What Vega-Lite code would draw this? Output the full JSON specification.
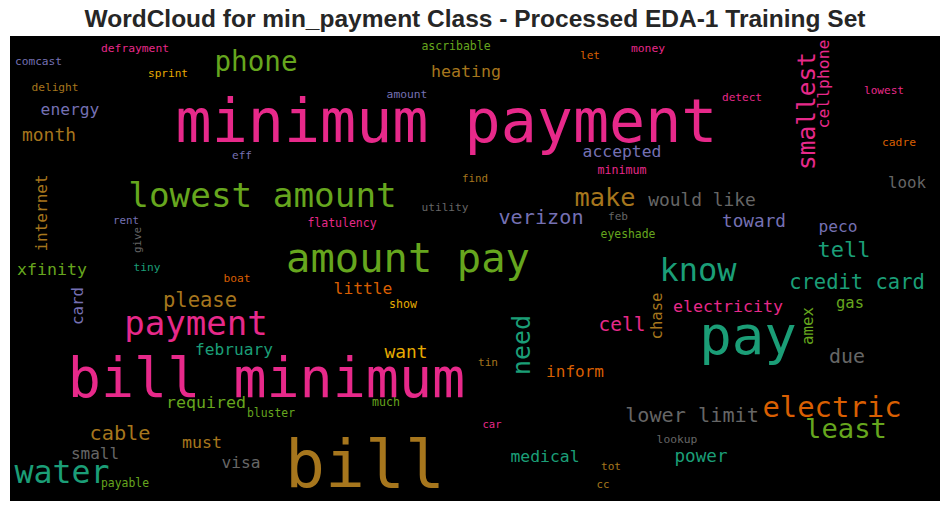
{
  "$schema": "https://vega.github.io/schema/vega-lite/v6.json",
  "width": 930,
  "height": 465,
  "autosize": {"type": "none"},
  "padding": {"left": 10, "top": 36, "right": 10, "bottom": 10},
  "background": "white",
  "view": {"fill": "black", "stroke": null},
  "title": {
    "text": "WordCloud for min_payment Class - Processed EDA-1 Training Set",
    "font": "Liberation Sans",
    "fontSize": 24.5,
    "fontWeight": "bold",
    "color": "#262626",
    "anchor": "middle",
    "frame": "group",
    "offset": 4
  },
  "data": {
    "values": [
      {"word": "defrayment", "x": 135, "y": 52, "weight": 11.3, "c": "pink", "o": "h"},
      {"word": "comcast", "x": 38.5, "y": 65, "weight": 11.2, "c": "purple", "o": "h"},
      {"word": "sprint", "x": 168, "y": 77, "weight": 11.1, "c": "yellow", "o": "h"},
      {"word": "phone", "x": 256, "y": 71, "weight": 27.6, "c": "green", "o": "h"},
      {"word": "delight", "x": 55, "y": 91, "weight": 11.2, "c": "brown", "o": "h"},
      {"word": "energy", "x": 70, "y": 115, "weight": 16.3, "c": "purple", "o": "h"},
      {"word": "month", "x": 49, "y": 141, "weight": 17.9, "c": "brown", "o": "h"},
      {"word": "minimum payment", "x": 446.5, "y": 142, "weight": 60, "c": "pink", "o": "h"},
      {"word": "eff", "x": 242, "y": 159, "weight": 11.1, "c": "purple", "o": "h"},
      {"word": "amount", "x": 407, "y": 98, "weight": 11.3, "c": "purple", "o": "h"},
      {"word": "ascribable", "x": 456, "y": 50, "weight": 11.5, "c": "green", "o": "h"},
      {"word": "heating", "x": 466, "y": 77, "weight": 16.6, "c": "brown", "o": "h"},
      {"word": "let", "x": 590, "y": 59, "weight": 11.1, "c": "orange", "o": "h"},
      {"word": "money", "x": 648, "y": 52, "weight": 11.3, "c": "pink", "o": "h"},
      {"word": "accepted", "x": 622, "y": 157, "weight": 16.4, "c": "purple", "o": "h"},
      {"word": "minimum", "x": 622, "y": 174, "weight": 11.6, "c": "pink", "o": "h"},
      {"word": "detect", "x": 742, "y": 101, "weight": 11.1, "c": "pink", "o": "h"},
      {"word": "lowest", "x": 884, "y": 94, "weight": 11.1, "c": "pink", "o": "h"},
      {"word": "cadre", "x": 899, "y": 146, "weight": 11.3, "c": "orange", "o": "h"},
      {"word": "lowest amount", "x": 262.5, "y": 207, "weight": 34.3, "c": "green", "o": "h"},
      {"word": "find", "x": 475, "y": 182, "weight": 10.8, "c": "brown", "o": "h"},
      {"word": "utility", "x": 445, "y": 211, "weight": 11.2, "c": "gray", "o": "h"},
      {"word": "rent", "x": 126, "y": 224, "weight": 10.8, "c": "purple", "o": "h"},
      {"word": "flatulency", "x": 342, "y": 227, "weight": 11.5, "c": "pink", "o": "h"},
      {"word": "amount pay", "x": 408, "y": 272, "weight": 40.5, "c": "green", "o": "h"},
      {"word": "xfinity", "x": 52, "y": 275, "weight": 16.6, "c": "green", "o": "h"},
      {"word": "tiny", "x": 147, "y": 271, "weight": 11.2, "c": "teal", "o": "h"},
      {"word": "boat", "x": 237, "y": 282, "weight": 11.2, "c": "orange", "o": "h"},
      {"word": "little", "x": 363, "y": 294, "weight": 16.3, "c": "orange", "o": "h"},
      {"word": "show", "x": 403, "y": 308, "weight": 11.6, "c": "yellow", "o": "h"},
      {"word": "please", "x": 200, "y": 307, "weight": 20.5, "c": "brown", "o": "h"},
      {"word": "payment", "x": 196, "y": 335, "weight": 34.1, "c": "pink", "o": "h"},
      {"word": "make", "x": 605, "y": 206, "weight": 25.3, "c": "brown", "o": "h"},
      {"word": "would like", "x": 702, "y": 206, "weight": 17.9, "c": "gray", "o": "h"},
      {"word": "look", "x": 907, "y": 188, "weight": 15.8, "c": "gray", "o": "h"},
      {"word": "verizon", "x": 541, "y": 224, "weight": 20.2, "c": "purple", "o": "h"},
      {"word": "feb", "x": 618, "y": 220, "weight": 11.1, "c": "gray", "o": "h"},
      {"word": "toward", "x": 754, "y": 227, "weight": 17.7, "c": "purple", "o": "h"},
      {"word": "peco", "x": 838, "y": 232, "weight": 16.2, "c": "purple", "o": "h"},
      {"word": "eyeshade", "x": 628, "y": 238, "weight": 11.4, "c": "green", "o": "h"},
      {"word": "tell", "x": 844, "y": 257, "weight": 22, "c": "teal", "o": "h"},
      {"word": "know", "x": 698, "y": 281, "weight": 32, "c": "teal", "o": "h"},
      {"word": "credit card", "x": 857, "y": 289, "weight": 20.5, "c": "teal", "o": "h"},
      {"word": "electricity", "x": 728, "y": 312, "weight": 16.6, "c": "pink", "o": "h"},
      {"word": "gas", "x": 850, "y": 308, "weight": 15.5, "c": "green", "o": "h"},
      {"word": "cell", "x": 622, "y": 331, "weight": 19.5, "c": "pink", "o": "h"},
      {"word": "pay", "x": 748, "y": 354, "weight": 54, "c": "teal", "o": "h"},
      {"word": "due", "x": 847, "y": 363, "weight": 19.9, "c": "gray", "o": "h"},
      {"word": "tin", "x": 488, "y": 366, "weight": 11.1, "c": "brown", "o": "h"},
      {"word": "inform", "x": 575, "y": 377, "weight": 16, "c": "orange", "o": "h"},
      {"word": "lower limit", "x": 692, "y": 422, "weight": 20.2, "c": "gray", "o": "h"},
      {"word": "electric", "x": 832, "y": 417, "weight": 28.9, "c": "orange", "o": "h"},
      {"word": "least", "x": 846, "y": 438, "weight": 27.2, "c": "green", "o": "h"},
      {"word": "car", "x": 492, "y": 428, "weight": 10.5, "c": "pink", "o": "h"},
      {"word": "lookup", "x": 677, "y": 443, "weight": 11.3, "c": "gray", "o": "h"},
      {"word": "medical", "x": 545, "y": 462, "weight": 16.4, "c": "teal", "o": "h"},
      {"word": "power", "x": 701, "y": 462, "weight": 17.6, "c": "teal", "o": "h"},
      {"word": "tot", "x": 611, "y": 470, "weight": 11.1, "c": "brown", "o": "h"},
      {"word": "cc", "x": 603, "y": 488, "weight": 10.8, "c": "brown", "o": "h"},
      {"word": "february", "x": 234, "y": 355, "weight": 16.2, "c": "teal", "o": "h"},
      {"word": "want", "x": 406, "y": 358, "weight": 17.9, "c": "yellow", "o": "h"},
      {"word": "bill minimum", "x": 266.5, "y": 397, "weight": 55, "c": "pink", "o": "h"},
      {"word": "required", "x": 206, "y": 408, "weight": 16.6, "c": "green", "o": "h"},
      {"word": "much", "x": 386, "y": 406, "weight": 11.6, "c": "green", "o": "h"},
      {"word": "bluster", "x": 271, "y": 417, "weight": 11.4, "c": "green", "o": "h"},
      {"word": "cable", "x": 120, "y": 440, "weight": 20.3, "c": "brown", "o": "h"},
      {"word": "must", "x": 202, "y": 448, "weight": 16.6, "c": "brown", "o": "h"},
      {"word": "small", "x": 95, "y": 459, "weight": 16, "c": "gray", "o": "h"},
      {"word": "visa", "x": 241, "y": 468, "weight": 16.2, "c": "gray", "o": "h"},
      {"word": "bill", "x": 365, "y": 487, "weight": 66.4, "c": "brown", "o": "h"},
      {"word": "water", "x": 62, "y": 483, "weight": 31.6, "c": "teal", "o": "h"},
      {"word": "payable", "x": 125, "y": 487, "weight": 11.4, "c": "green", "o": "h"},
      {"word": "smallest", "x": 815, "y": 111, "weight": 24.5, "c": "pink", "o": "v"},
      {"word": "cellphone", "x": 829, "y": 84, "weight": 16.4, "c": "pink", "o": "v"},
      {"word": "internet", "x": 47, "y": 213, "weight": 16, "c": "brown", "o": "v"},
      {"word": "give", "x": 141, "y": 240, "weight": 10.8, "c": "gray", "o": "v"},
      {"word": "card", "x": 83, "y": 306, "weight": 15.8, "c": "purple", "o": "v"},
      {"word": "chase", "x": 662, "y": 316, "weight": 15.6, "c": "brown", "o": "v"},
      {"word": "amex", "x": 813, "y": 326, "weight": 15.8, "c": "green", "o": "v"},
      {"word": "need", "x": 530, "y": 345, "weight": 24.9, "c": "teal", "o": "v"}
    ]
  },
  "encoding": {
    "x": {"field": "x", "type": "quantitative", "axis": null, "scale": {"domain": [10, 940], "zero": false, "nice": false}},
    "y": {"field": "y", "type": "quantitative", "axis": null, "scale": {"domain": [36, 501], "reverse": true, "zero": false, "nice": false}},
    "size": {"field": "weight", "type": "quantitative", "legend": null, "scale": {"domain": [0, 100], "range": [0, 100], "zero": true}},
    "color": {"field": "c", "type": "nominal", "legend": null, "scale": {"domain": ["teal", "orange", "purple", "pink", "green", "yellow", "brown", "gray"], "range": ["#1b9e77", "#d95f02", "#7570b3", "#e7298a", "#66a61e", "#e6ab02", "#a6761d", "#666666"]}},
    "text": {"field": "word", "type": "nominal"}
  },
  "layer": [
    {
      "transform": [{"filter": "datum.o === 'h'"}],
      "mark": {"type": "text", "font": "DejaVu Sans Mono", "align": "center", "baseline": "alphabetic"}
    },
    {
      "transform": [{"filter": "datum.o === 'v'"}],
      "mark": {"type": "text", "font": "DejaVu Sans Mono", "align": "center", "baseline": "alphabetic", "angle": 270}
    }
  ]
}
